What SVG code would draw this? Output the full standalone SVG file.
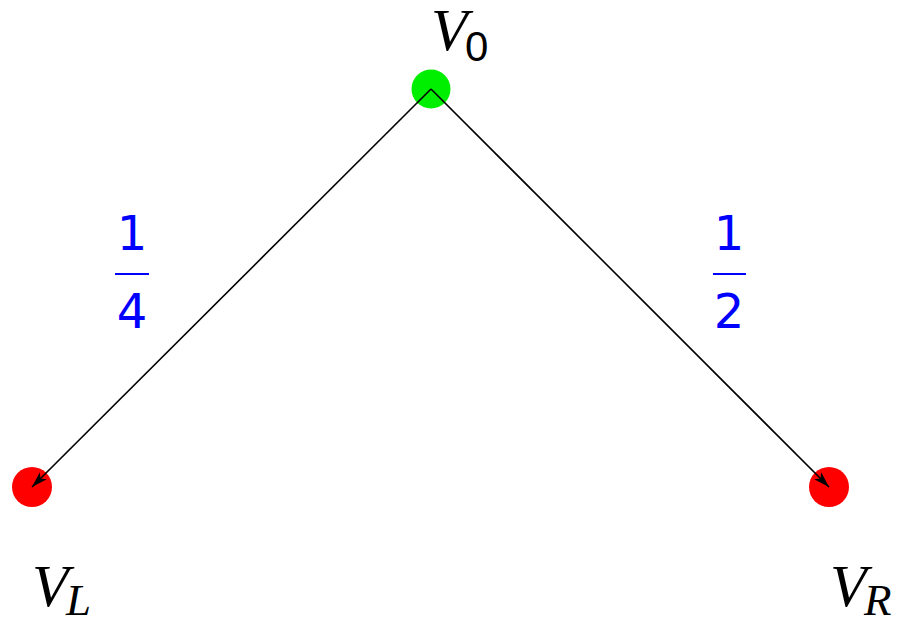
<svg xmlns="http://www.w3.org/2000/svg" width="903" height="620" viewBox="0 0 903 620">
<style>
.v{font-family:"Liberation Serif","Times New Roman",serif;font-style:italic;font-size:60px;fill:#000}
.sub{font-family:"Liberation Sans","DejaVu Sans",sans-serif;font-size:42px;fill:#000}
.subi{font-family:"Liberation Serif","Times New Roman",serif;font-style:italic;font-size:45px;fill:#000}
.frac{font-family:"DejaVu Sans","Liberation Sans",sans-serif;font-size:48px;fill:#0000ff;text-anchor:middle}
.edge{stroke:#000;stroke-width:1.6;fill:none;marker-end:url(#arr)}
</style>
<defs>
<marker id="arr" viewBox="0 0 16 10" refX="16" refY="5" markerWidth="16" markerHeight="10" markerUnits="userSpaceOnUse" orient="auto">
<path d="M0,0 L16,5 L0,10 L4,5 Z" fill="#000"/>
</marker>
</defs>
<g id="V0">
<circle cx="431" cy="89" r="19.5" fill="#00ee00"/>
<text x="431" y="50" class="v">V</text>
<text x="465" y="61" class="sub">0</text>
</g>
<g id="VL">
<circle cx="32" cy="487" r="20" fill="#ff0000"/>
<text x="32" y="606" class="v">V</text>
<text x="66" y="615" class="subi">L</text>
</g>
<g id="VR">
<circle cx="829" cy="487" r="20" fill="#ff0000"/>
<text x="830" y="606" class="v">V</text>
<text x="864" y="615" class="subi">R</text>
</g>
<g id="connectors">
<line x1="431" y1="89" x2="32" y2="487" class="edge"/>
<line x1="431" y1="89" x2="829" y2="487" class="edge"/>
</g>
<g id="labels">
<text x="132" y="250" class="frac">1</text>
<rect x="115" y="273" width="34" height="2" fill="#0000ff"/>
<text x="132" y="328" class="frac">4</text>
<text x="729" y="250" class="frac">1</text>
<rect x="713" y="273" width="33" height="2" fill="#0000ff"/>
<text x="729" y="328" class="frac">2</text>
</g>
</svg>
